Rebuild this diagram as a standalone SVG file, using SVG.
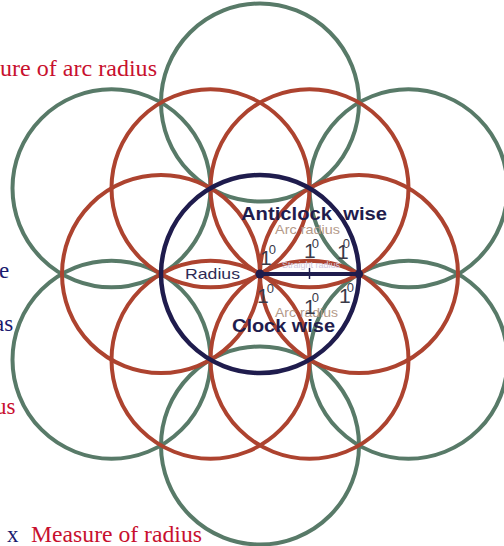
<svg xmlns="http://www.w3.org/2000/svg" width="504" height="546" viewBox="0 0 504 546">
<style>
.g{fill:none;stroke:#587a68;stroke-width:4}
.r{fill:none;stroke:#ad432f;stroke-width:4}
.n{fill:none;stroke:#1f1c4d;stroke-width:4.5}
.serif{font-family:"Liberation Serif","Times New Roman",serif;font-size:23px}
.red{fill:#c8102e}
.navy{fill:#1a1a6e}
.bold{font-family:"Liberation Sans",Arial,sans-serif;font-weight:bold;font-size:18px;fill:#1f1c4d}
.deg{font-family:"Liberation Sans",Arial,sans-serif;font-size:21px;fill:#3a3a48}
.sup{font-size:13px}
.arc{font-family:"Liberation Sans",Arial,sans-serif;font-size:13px;fill:#b49a8a}
</style>
<rect width="504" height="546" fill="#ffffff"/>
<g id="green-circles">
<circle class="g" cx="260" cy="102.5" r="99"/>
<circle class="g" cx="260" cy="445.5" r="99"/>
<circle class="g" cx="111.5" cy="188.3" r="99"/>
<circle class="g" cx="111.5" cy="359.7" r="99"/>
<circle class="g" cx="408.5" cy="188.3" r="99"/>
<circle class="g" cx="408.5" cy="359.7" r="99"/>
</g>
<g id="red-circles">
<circle class="r" cx="359" cy="274" r="99"/>
<circle class="r" cx="161" cy="274" r="99"/>
<circle class="r" cx="309.5" cy="188.3" r="99"/>
<circle class="r" cx="210.5" cy="188.3" r="99"/>
<circle class="r" cx="309.5" cy="359.7" r="99"/>
<circle class="r" cx="210.5" cy="359.7" r="99"/>
</g>
<g id="center-circle">
<circle class="n" cx="260" cy="274" r="99"/>
</g>
<g id="connectors">
<line x1="260" y1="274" x2="359" y2="274" stroke="#1f1c4d" stroke-width="4"/>
<line x1="309.5" y1="268" x2="309.5" y2="279" stroke="#1f1c4d" stroke-width="1.5"/>
<circle cx="260" cy="274" r="4.5" fill="#1f1c4d"/>
<circle cx="359" cy="274" r="4" fill="#1f1c4d"/>
</g>
<g id="labels">
<text class="serif red" x="0" y="76" textLength="157" lengthAdjust="spacingAndGlyphs">ure of arc radius</text>
<text class="serif navy" x="-1" y="278">e</text>
<text class="serif navy" x="-6" y="331">as</text>
<text class="serif red" x="-5" y="414">us</text>
<text class="serif navy" x="7" y="542">x</text>
<text class="serif red" x="31" y="542" textLength="171" lengthAdjust="spacingAndGlyphs">Measure of radius</text>
<text class="bold" x="241" y="220" textLength="146" lengthAdjust="spacingAndGlyphs">Anticlock&#160; wise</text>
<text class="bold" x="232" y="332" textLength="103" lengthAdjust="spacingAndGlyphs">Clock wise</text>
<text class="arc" x="275" y="234" textLength="65" lengthAdjust="spacingAndGlyphs">Arc radius</text>
<text class="arc" x="275" y="317" textLength="63" lengthAdjust="spacingAndGlyphs">Arc radius</text>
<text x="185" y="279" font-family="Liberation Sans,Arial,sans-serif" font-size="15" fill="#2e2b55" textLength="55" lengthAdjust="spacingAndGlyphs">Radius</text>
<text x="282" y="268" font-family="Liberation Sans,Arial,sans-serif" font-size="8.5" fill="#cfc8de" textLength="58" lengthAdjust="spacingAndGlyphs">Straight radius</text>
<text class="deg" x="260" y="265">1<tspan class="sup" dx="-3" dy="-11">0</tspan></text>
<text class="deg" x="304" y="258">1<tspan class="sup" dx="-4" dy="-10">0</tspan></text>
<text class="deg" x="337" y="259">1<tspan class="sup" dx="-6" dy="-11">0</tspan></text>
<text class="deg" x="257" y="303">1<tspan class="sup" dx="-2" dy="-10">0</tspan></text>
<text class="deg" x="304" y="314">1<tspan class="sup" dx="-4" dy="-12">0</tspan></text>
<text class="deg" x="339" y="303">1<tspan class="sup" dx="-4" dy="-11">0</tspan></text>
</g>
</svg>
